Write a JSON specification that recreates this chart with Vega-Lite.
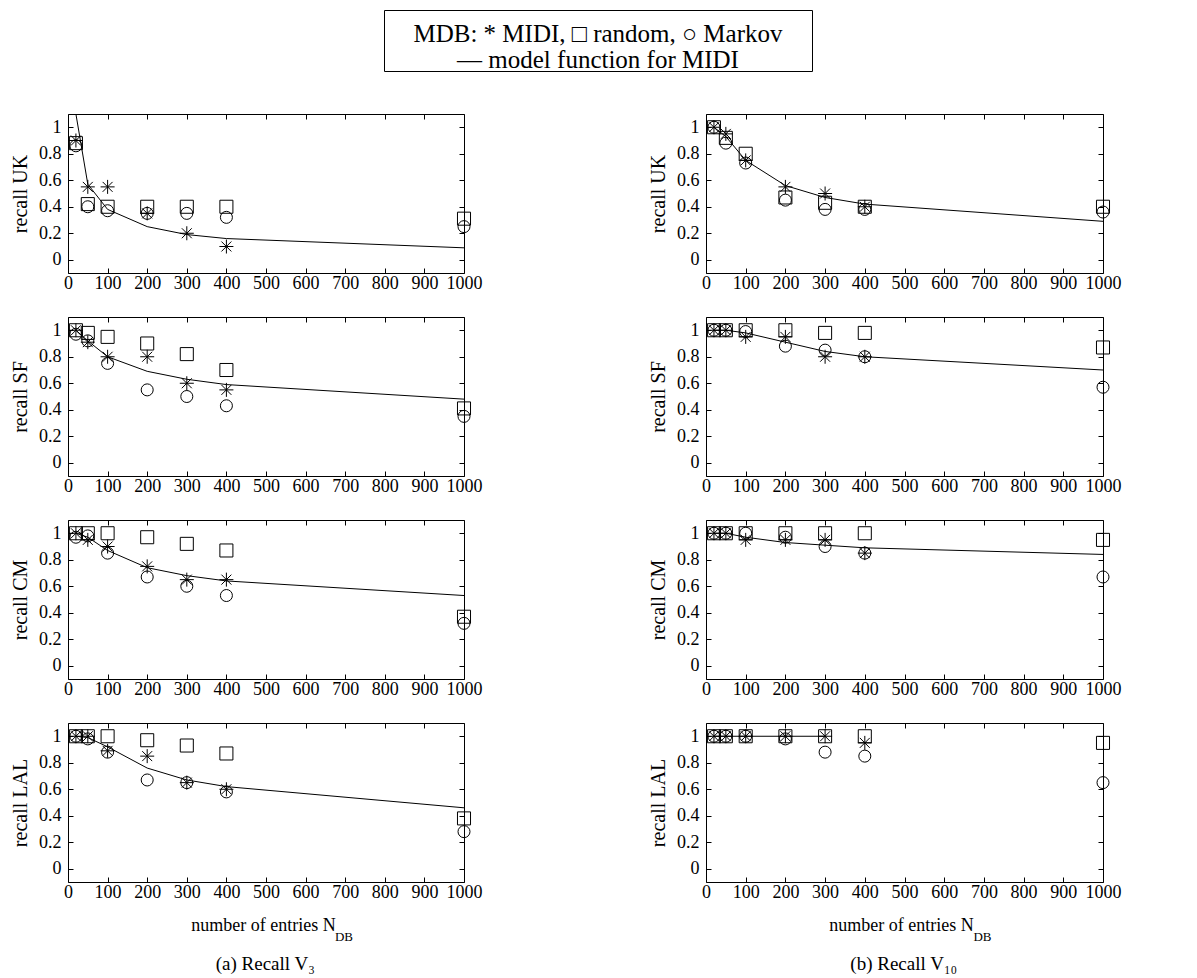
{
"$schema":"https://vega.github.io/schema/vega-lite/v6.json",
"background":"white",
"padding":{"left":10,"top":9,"right":5,"bottom":5},
"datasets":{"d":[
{"p":"aUK","s":"MIDI","x":20,"v":0.9},{"p":"aUK","s":"MIDI","x":50,"v":0.55},{"p":"aUK","s":"MIDI","x":100,"v":0.55},{"p":"aUK","s":"MIDI","x":200,"v":0.35},{"p":"aUK","s":"MIDI","x":300,"v":0.2},{"p":"aUK","s":"MIDI","x":400,"v":0.1},
{"p":"aUK","s":"random","x":20,"v":0.88},{"p":"aUK","s":"random","x":50,"v":0.42},{"p":"aUK","s":"random","x":100,"v":0.4},{"p":"aUK","s":"random","x":200,"v":0.4},{"p":"aUK","s":"random","x":300,"v":0.4},{"p":"aUK","s":"random","x":400,"v":0.4},{"p":"aUK","s":"random","x":1000,"v":0.31},
{"p":"aUK","s":"Markov","x":20,"v":0.86},{"p":"aUK","s":"Markov","x":50,"v":0.4},{"p":"aUK","s":"Markov","x":100,"v":0.37},{"p":"aUK","s":"Markov","x":200,"v":0.35},{"p":"aUK","s":"Markov","x":300,"v":0.35},{"p":"aUK","s":"Markov","x":400,"v":0.32},{"p":"aUK","s":"Markov","x":1000,"v":0.25},
{"p":"aUK","s":"model","x":20,"v":1.1},{"p":"aUK","s":"model","x":50,"v":0.57},{"p":"aUK","s":"model","x":100,"v":0.38},{"p":"aUK","s":"model","x":200,"v":0.25},{"p":"aUK","s":"model","x":300,"v":0.19},{"p":"aUK","s":"model","x":400,"v":0.16},{"p":"aUK","s":"model","x":1000,"v":0.09},

{"p":"bUK","s":"MIDI","x":20,"v":1.0},{"p":"bUK","s":"MIDI","x":50,"v":0.95},{"p":"bUK","s":"MIDI","x":100,"v":0.75},{"p":"bUK","s":"MIDI","x":200,"v":0.55},{"p":"bUK","s":"MIDI","x":300,"v":0.5},{"p":"bUK","s":"MIDI","x":400,"v":0.4},
{"p":"bUK","s":"random","x":20,"v":1.0},{"p":"bUK","s":"random","x":50,"v":0.92},{"p":"bUK","s":"random","x":100,"v":0.8},{"p":"bUK","s":"random","x":200,"v":0.47},{"p":"bUK","s":"random","x":300,"v":0.43},{"p":"bUK","s":"random","x":400,"v":0.4},{"p":"bUK","s":"random","x":1000,"v":0.4},
{"p":"bUK","s":"Markov","x":20,"v":1.0},{"p":"bUK","s":"Markov","x":50,"v":0.88},{"p":"bUK","s":"Markov","x":100,"v":0.73},{"p":"bUK","s":"Markov","x":200,"v":0.45},{"p":"bUK","s":"Markov","x":300,"v":0.38},{"p":"bUK","s":"Markov","x":400,"v":0.38},{"p":"bUK","s":"Markov","x":1000,"v":0.36},
{"p":"bUK","s":"model","x":20,"v":1.0},{"p":"bUK","s":"model","x":50,"v":0.93},{"p":"bUK","s":"model","x":100,"v":0.75},{"p":"bUK","s":"model","x":200,"v":0.56},{"p":"bUK","s":"model","x":300,"v":0.47},{"p":"bUK","s":"model","x":400,"v":0.42},{"p":"bUK","s":"model","x":1000,"v":0.29},

{"p":"aSF","s":"MIDI","x":20,"v":1.0},{"p":"aSF","s":"MIDI","x":50,"v":0.91},{"p":"aSF","s":"MIDI","x":100,"v":0.8},{"p":"aSF","s":"MIDI","x":200,"v":0.8},{"p":"aSF","s":"MIDI","x":300,"v":0.6},{"p":"aSF","s":"MIDI","x":400,"v":0.55},
{"p":"aSF","s":"random","x":20,"v":1.0},{"p":"aSF","s":"random","x":50,"v":0.98},{"p":"aSF","s":"random","x":100,"v":0.95},{"p":"aSF","s":"random","x":200,"v":0.9},{"p":"aSF","s":"random","x":300,"v":0.82},{"p":"aSF","s":"random","x":400,"v":0.7},{"p":"aSF","s":"random","x":1000,"v":0.41},
{"p":"aSF","s":"Markov","x":20,"v":0.97},{"p":"aSF","s":"Markov","x":50,"v":0.92},{"p":"aSF","s":"Markov","x":100,"v":0.75},{"p":"aSF","s":"Markov","x":200,"v":0.55},{"p":"aSF","s":"Markov","x":300,"v":0.5},{"p":"aSF","s":"Markov","x":400,"v":0.43},{"p":"aSF","s":"Markov","x":1000,"v":0.35},
{"p":"aSF","s":"model","x":20,"v":1.0},{"p":"aSF","s":"model","x":50,"v":0.92},{"p":"aSF","s":"model","x":100,"v":0.8},{"p":"aSF","s":"model","x":200,"v":0.69},{"p":"aSF","s":"model","x":300,"v":0.63},{"p":"aSF","s":"model","x":400,"v":0.59},{"p":"aSF","s":"model","x":1000,"v":0.48},

{"p":"bSF","s":"MIDI","x":20,"v":1.0},{"p":"bSF","s":"MIDI","x":50,"v":1.0},{"p":"bSF","s":"MIDI","x":100,"v":0.95},{"p":"bSF","s":"MIDI","x":200,"v":0.95},{"p":"bSF","s":"MIDI","x":300,"v":0.8},{"p":"bSF","s":"MIDI","x":400,"v":0.8},
{"p":"bSF","s":"random","x":20,"v":1.0},{"p":"bSF","s":"random","x":50,"v":1.0},{"p":"bSF","s":"random","x":100,"v":1.0},{"p":"bSF","s":"random","x":200,"v":1.0},{"p":"bSF","s":"random","x":300,"v":0.98},{"p":"bSF","s":"random","x":400,"v":0.98},{"p":"bSF","s":"random","x":1000,"v":0.87},
{"p":"bSF","s":"Markov","x":20,"v":1.0},{"p":"bSF","s":"Markov","x":50,"v":1.0},{"p":"bSF","s":"Markov","x":100,"v":0.99},{"p":"bSF","s":"Markov","x":200,"v":0.88},{"p":"bSF","s":"Markov","x":300,"v":0.85},{"p":"bSF","s":"Markov","x":400,"v":0.8},{"p":"bSF","s":"Markov","x":1000,"v":0.57},
{"p":"bSF","s":"model","x":20,"v":1.0},{"p":"bSF","s":"model","x":50,"v":1.0},{"p":"bSF","s":"model","x":100,"v":0.98},{"p":"bSF","s":"model","x":200,"v":0.91},{"p":"bSF","s":"model","x":300,"v":0.84},{"p":"bSF","s":"model","x":400,"v":0.8},{"p":"bSF","s":"model","x":1000,"v":0.7},

{"p":"aCM","s":"MIDI","x":20,"v":1.0},{"p":"aCM","s":"MIDI","x":50,"v":0.95},{"p":"aCM","s":"MIDI","x":100,"v":0.9},{"p":"aCM","s":"MIDI","x":200,"v":0.75},{"p":"aCM","s":"MIDI","x":300,"v":0.65},{"p":"aCM","s":"MIDI","x":400,"v":0.65},
{"p":"aCM","s":"random","x":20,"v":1.0},{"p":"aCM","s":"random","x":50,"v":1.0},{"p":"aCM","s":"random","x":100,"v":1.0},{"p":"aCM","s":"random","x":200,"v":0.97},{"p":"aCM","s":"random","x":300,"v":0.92},{"p":"aCM","s":"random","x":400,"v":0.87},{"p":"aCM","s":"random","x":1000,"v":0.37},
{"p":"aCM","s":"Markov","x":20,"v":0.97},{"p":"aCM","s":"Markov","x":50,"v":0.98},{"p":"aCM","s":"Markov","x":100,"v":0.85},{"p":"aCM","s":"Markov","x":200,"v":0.67},{"p":"aCM","s":"Markov","x":300,"v":0.6},{"p":"aCM","s":"Markov","x":400,"v":0.53},{"p":"aCM","s":"Markov","x":1000,"v":0.32},
{"p":"aCM","s":"model","x":20,"v":1.0},{"p":"aCM","s":"model","x":50,"v":0.97},{"p":"aCM","s":"model","x":100,"v":0.87},{"p":"aCM","s":"model","x":200,"v":0.74},{"p":"aCM","s":"model","x":300,"v":0.68},{"p":"aCM","s":"model","x":400,"v":0.64},{"p":"aCM","s":"model","x":1000,"v":0.53},

{"p":"bCM","s":"MIDI","x":20,"v":1.0},{"p":"bCM","s":"MIDI","x":50,"v":1.0},{"p":"bCM","s":"MIDI","x":100,"v":0.95},{"p":"bCM","s":"MIDI","x":200,"v":0.95},{"p":"bCM","s":"MIDI","x":300,"v":0.95},{"p":"bCM","s":"MIDI","x":400,"v":0.85},
{"p":"bCM","s":"random","x":20,"v":1.0},{"p":"bCM","s":"random","x":50,"v":1.0},{"p":"bCM","s":"random","x":100,"v":1.0},{"p":"bCM","s":"random","x":200,"v":1.0},{"p":"bCM","s":"random","x":300,"v":1.0},{"p":"bCM","s":"random","x":400,"v":1.0},{"p":"bCM","s":"random","x":1000,"v":0.95},
{"p":"bCM","s":"Markov","x":20,"v":1.0},{"p":"bCM","s":"Markov","x":50,"v":1.0},{"p":"bCM","s":"Markov","x":100,"v":1.0},{"p":"bCM","s":"Markov","x":200,"v":0.97},{"p":"bCM","s":"Markov","x":300,"v":0.9},{"p":"bCM","s":"Markov","x":400,"v":0.85},{"p":"bCM","s":"Markov","x":1000,"v":0.67},
{"p":"bCM","s":"model","x":20,"v":1.0},{"p":"bCM","s":"model","x":50,"v":1.0},{"p":"bCM","s":"model","x":100,"v":0.97},{"p":"bCM","s":"model","x":200,"v":0.93},{"p":"bCM","s":"model","x":300,"v":0.91},{"p":"bCM","s":"model","x":400,"v":0.89},{"p":"bCM","s":"model","x":1000,"v":0.84},

{"p":"aLAL","s":"MIDI","x":20,"v":1.0},{"p":"aLAL","s":"MIDI","x":50,"v":1.0},{"p":"aLAL","s":"MIDI","x":100,"v":0.89},{"p":"aLAL","s":"MIDI","x":200,"v":0.85},{"p":"aLAL","s":"MIDI","x":300,"v":0.65},{"p":"aLAL","s":"MIDI","x":400,"v":0.6},
{"p":"aLAL","s":"random","x":20,"v":1.0},{"p":"aLAL","s":"random","x":50,"v":1.0},{"p":"aLAL","s":"random","x":100,"v":1.0},{"p":"aLAL","s":"random","x":200,"v":0.97},{"p":"aLAL","s":"random","x":300,"v":0.93},{"p":"aLAL","s":"random","x":400,"v":0.87},{"p":"aLAL","s":"random","x":1000,"v":0.38},
{"p":"aLAL","s":"Markov","x":20,"v":1.0},{"p":"aLAL","s":"Markov","x":50,"v":0.98},{"p":"aLAL","s":"Markov","x":100,"v":0.88},{"p":"aLAL","s":"Markov","x":200,"v":0.67},{"p":"aLAL","s":"Markov","x":300,"v":0.65},{"p":"aLAL","s":"Markov","x":400,"v":0.58},{"p":"aLAL","s":"Markov","x":1000,"v":0.28},
{"p":"aLAL","s":"model","x":20,"v":1.0},{"p":"aLAL","s":"model","x":50,"v":0.99},{"p":"aLAL","s":"model","x":100,"v":0.92},{"p":"aLAL","s":"model","x":200,"v":0.76},{"p":"aLAL","s":"model","x":300,"v":0.67},{"p":"aLAL","s":"model","x":400,"v":0.62},{"p":"aLAL","s":"model","x":1000,"v":0.46},

{"p":"bLAL","s":"MIDI","x":20,"v":1.0},{"p":"bLAL","s":"MIDI","x":50,"v":1.0},{"p":"bLAL","s":"MIDI","x":100,"v":1.0},{"p":"bLAL","s":"MIDI","x":200,"v":1.0},{"p":"bLAL","s":"MIDI","x":300,"v":1.0},{"p":"bLAL","s":"MIDI","x":400,"v":0.95},
{"p":"bLAL","s":"random","x":20,"v":1.0},{"p":"bLAL","s":"random","x":50,"v":1.0},{"p":"bLAL","s":"random","x":100,"v":1.0},{"p":"bLAL","s":"random","x":200,"v":1.0},{"p":"bLAL","s":"random","x":300,"v":1.0},{"p":"bLAL","s":"random","x":400,"v":1.0},{"p":"bLAL","s":"random","x":1000,"v":0.95},
{"p":"bLAL","s":"Markov","x":20,"v":1.0},{"p":"bLAL","s":"Markov","x":50,"v":1.0},{"p":"bLAL","s":"Markov","x":100,"v":1.0},{"p":"bLAL","s":"Markov","x":200,"v":0.98},{"p":"bLAL","s":"Markov","x":300,"v":0.88},{"p":"bLAL","s":"Markov","x":400,"v":0.85},{"p":"bLAL","s":"Markov","x":1000,"v":0.65},
{"p":"bLAL","s":"model","x":20,"v":1.0},{"p":"bLAL","s":"model","x":50,"v":1.0},{"p":"bLAL","s":"model","x":100,"v":1.0},{"p":"bLAL","s":"model","x":200,"v":1.0},{"p":"bLAL","s":"model","x":300,"v":1.0}
]},
"data":{"name":"d"},
"spacing":39,
"vconcat":[
 {"bounds":"flush","spacing":0,"hconcat":[
   {"width":316,"height":61,"view":{"stroke":null},"data":{"values":[{}]},"mark":{"type":"text"},"encoding":{"text":{"value":""}}},
   {"width":428,"height":61,"view":{"stroke":"black","strokeWidth":1},"data":{"values":[{}]},"mark":{"type":"text","font":"Liberation Serif","fontSize":25,"lineHeight":26,"baseline":"middle","align":"center","dy":-6.5,"color":"black"},"encoding":{"text":{"value":["MDB: * MIDI, □ random, ○ Markov","— model function for MIDI"]}}}
 ]},
 {"spacing":165,"hconcat":[
  {"bounds":"flush","spacing":44,
   "title":{"text":"(a)  Recall V₃","orient":"bottom","anchor":"middle","frame":"bounds","fontSize":19,"offset":10,"dx":19},
   "vconcat":[
    {"width":396,"height":159,"transform":[{"filter":"datum.p=='aUK'"}],"resolve":{"axis":{"x":"independent","y":"independent"}},
     "layer":[
      {"transform":[{"filter":"datum.s=='model'"}],"mark":{"type":"line","color":"black","strokeWidth":1,"clip":true},
       "encoding":{"x":{"field":"x","type":"quantitative","scale":{"domain":[0,1000],"nice":false,"zero":false},"axis":{"orient":"bottom","values":[0,100,200,300,400,500,600,700,800,900,1000],"format":"d","title":null}},
                   "y":{"field":"v","type":"quantitative","scale":{"domain":[-0.1,1.1],"nice":false,"zero":false},"axis":{"orient":"left","values":[0,0.2,0.4,0.6,0.8,1],"format":"~g","title":"recall UK"}}}},
      {"transform":[{"filter":"datum.s!='model'"}],"mark":{"type":"point","filled":false,"color":"black","strokeWidth":1,"opacity":1},
       "encoding":{"x":{"field":"x","type":"quantitative","axis":{"orient":"top","values":[0,100,200,300,400,500,600,700,800,900,1000],"labels":false,"title":null}},
                   "y":{"field":"v","type":"quantitative","axis":{"orient":"right","values":[0,0.2,0.4,0.6,0.8,1],"labels":false,"title":null}},
                   "shape":{"field":"s","type":"nominal","scale":{"domain":["MIDI","random","Markov"],"range":["M0,-1L0,1M-1,0L1,0M-0.71,-0.71L0.71,0.71M-0.71,0.71L0.71,-0.71","square","circle"]},"legend":null},
                   "size":{"field":"s","type":"nominal","scale":{"domain":["MIDI","random","Markov"],"range":[196,144,256]},"legend":null}}}
     ]},
    {"width":396,"height":159,"transform":[{"filter":"datum.p=='aSF'"}],"resolve":{"axis":{"x":"independent","y":"independent"}},
     "layer":[
      {"transform":[{"filter":"datum.s=='model'"}],"mark":{"type":"line","color":"black","strokeWidth":1,"clip":true},
       "encoding":{"x":{"field":"x","type":"quantitative","scale":{"domain":[0,1000],"nice":false,"zero":false},"axis":{"orient":"bottom","values":[0,100,200,300,400,500,600,700,800,900,1000],"format":"d","title":null}},
                   "y":{"field":"v","type":"quantitative","scale":{"domain":[-0.1,1.1],"nice":false,"zero":false},"axis":{"orient":"left","values":[0,0.2,0.4,0.6,0.8,1],"format":"~g","title":"recall SF"}}}},
      {"transform":[{"filter":"datum.s!='model'"}],"mark":{"type":"point","filled":false,"color":"black","strokeWidth":1,"opacity":1},
       "encoding":{"x":{"field":"x","type":"quantitative","axis":{"orient":"top","values":[0,100,200,300,400,500,600,700,800,900,1000],"labels":false,"title":null}},
                   "y":{"field":"v","type":"quantitative","axis":{"orient":"right","values":[0,0.2,0.4,0.6,0.8,1],"labels":false,"title":null}},
                   "shape":{"field":"s","type":"nominal","scale":{"domain":["MIDI","random","Markov"],"range":["M0,-1L0,1M-1,0L1,0M-0.71,-0.71L0.71,0.71M-0.71,0.71L0.71,-0.71","square","circle"]},"legend":null},
                   "size":{"field":"s","type":"nominal","scale":{"domain":["MIDI","random","Markov"],"range":[196,144,256]},"legend":null}}}
     ]},
    {"width":396,"height":159,"transform":[{"filter":"datum.p=='aCM'"}],"resolve":{"axis":{"x":"independent","y":"independent"}},
     "layer":[
      {"transform":[{"filter":"datum.s=='model'"}],"mark":{"type":"line","color":"black","strokeWidth":1,"clip":true},
       "encoding":{"x":{"field":"x","type":"quantitative","scale":{"domain":[0,1000],"nice":false,"zero":false},"axis":{"orient":"bottom","values":[0,100,200,300,400,500,600,700,800,900,1000],"format":"d","title":null}},
                   "y":{"field":"v","type":"quantitative","scale":{"domain":[-0.1,1.1],"nice":false,"zero":false},"axis":{"orient":"left","values":[0,0.2,0.4,0.6,0.8,1],"format":"~g","title":"recall CM"}}}},
      {"transform":[{"filter":"datum.s!='model'"}],"mark":{"type":"point","filled":false,"color":"black","strokeWidth":1,"opacity":1},
       "encoding":{"x":{"field":"x","type":"quantitative","axis":{"orient":"top","values":[0,100,200,300,400,500,600,700,800,900,1000],"labels":false,"title":null}},
                   "y":{"field":"v","type":"quantitative","axis":{"orient":"right","values":[0,0.2,0.4,0.6,0.8,1],"labels":false,"title":null}},
                   "shape":{"field":"s","type":"nominal","scale":{"domain":["MIDI","random","Markov"],"range":["M0,-1L0,1M-1,0L1,0M-0.71,-0.71L0.71,0.71M-0.71,0.71L0.71,-0.71","square","circle"]},"legend":null},
                   "size":{"field":"s","type":"nominal","scale":{"domain":["MIDI","random","Markov"],"range":[196,144,256]},"legend":null}}}
     ]},
    {"width":396,"height":159,"transform":[{"filter":"datum.p=='aLAL'"}],"resolve":{"axis":{"x":"independent","y":"independent"}},
     "title":{"text":"DB","orient":"bottom","anchor":"middle","fontSize":13,"dx":78,"offset":-3},
     "layer":[
      {"transform":[{"filter":"datum.s=='model'"}],"mark":{"type":"line","color":"black","strokeWidth":1,"clip":true},
       "encoding":{"x":{"field":"x","type":"quantitative","scale":{"domain":[0,1000],"nice":false,"zero":false},"axis":{"orient":"bottom","values":[0,100,200,300,400,500,600,700,800,900,1000],"format":"d","title":"number of entries N","titleX":195}},
                   "y":{"field":"v","type":"quantitative","scale":{"domain":[-0.1,1.1],"nice":false,"zero":false},"axis":{"orient":"left","values":[0,0.2,0.4,0.6,0.8,1],"format":"~g","title":"recall LAL"}}}},
      {"transform":[{"filter":"datum.s!='model'"}],"mark":{"type":"point","filled":false,"color":"black","strokeWidth":1,"opacity":1},
       "encoding":{"x":{"field":"x","type":"quantitative","axis":{"orient":"top","values":[0,100,200,300,400,500,600,700,800,900,1000],"labels":false,"title":null}},
                   "y":{"field":"v","type":"quantitative","axis":{"orient":"right","values":[0,0.2,0.4,0.6,0.8,1],"labels":false,"title":null}},
                   "shape":{"field":"s","type":"nominal","scale":{"domain":["MIDI","random","Markov"],"range":["M0,-1L0,1M-1,0L1,0M-0.71,-0.71L0.71,0.71M-0.71,0.71L0.71,-0.71","square","circle"]},"legend":null},
                   "size":{"field":"s","type":"nominal","scale":{"domain":["MIDI","random","Markov"],"range":[196,144,256]},"legend":null}}}
     ]}
   ]},
  {"bounds":"flush","spacing":44,
   "title":{"text":"(b)  Recall V₁₀","orient":"bottom","anchor":"middle","frame":"bounds","fontSize":19,"offset":10,"dx":19},
   "vconcat":[
    {"width":397,"height":159,"transform":[{"filter":"datum.p=='bUK'"}],"resolve":{"axis":{"x":"independent","y":"independent"}},
     "layer":[
      {"transform":[{"filter":"datum.s=='model'"}],"mark":{"type":"line","color":"black","strokeWidth":1,"clip":true},
       "encoding":{"x":{"field":"x","type":"quantitative","scale":{"domain":[0,1000],"nice":false,"zero":false},"axis":{"orient":"bottom","values":[0,100,200,300,400,500,600,700,800,900,1000],"format":"d","title":null}},
                   "y":{"field":"v","type":"quantitative","scale":{"domain":[-0.1,1.1],"nice":false,"zero":false},"axis":{"orient":"left","values":[0,0.2,0.4,0.6,0.8,1],"format":"~g","title":"recall UK"}}}},
      {"transform":[{"filter":"datum.s!='model'"}],"mark":{"type":"point","filled":false,"color":"black","strokeWidth":1,"opacity":1},
       "encoding":{"x":{"field":"x","type":"quantitative","axis":{"orient":"top","values":[0,100,200,300,400,500,600,700,800,900,1000],"labels":false,"title":null}},
                   "y":{"field":"v","type":"quantitative","axis":{"orient":"right","values":[0,0.2,0.4,0.6,0.8,1],"labels":false,"title":null}},
                   "shape":{"field":"s","type":"nominal","scale":{"domain":["MIDI","random","Markov"],"range":["M0,-1L0,1M-1,0L1,0M-0.71,-0.71L0.71,0.71M-0.71,0.71L0.71,-0.71","square","circle"]},"legend":null},
                   "size":{"field":"s","type":"nominal","scale":{"domain":["MIDI","random","Markov"],"range":[196,144,256]},"legend":null}}}
     ]},
    {"width":397,"height":159,"transform":[{"filter":"datum.p=='bSF'"}],"resolve":{"axis":{"x":"independent","y":"independent"}},
     "layer":[
      {"transform":[{"filter":"datum.s=='model'"}],"mark":{"type":"line","color":"black","strokeWidth":1,"clip":true},
       "encoding":{"x":{"field":"x","type":"quantitative","scale":{"domain":[0,1000],"nice":false,"zero":false},"axis":{"orient":"bottom","values":[0,100,200,300,400,500,600,700,800,900,1000],"format":"d","title":null}},
                   "y":{"field":"v","type":"quantitative","scale":{"domain":[-0.1,1.1],"nice":false,"zero":false},"axis":{"orient":"left","values":[0,0.2,0.4,0.6,0.8,1],"format":"~g","title":"recall SF"}}}},
      {"transform":[{"filter":"datum.s!='model'"}],"mark":{"type":"point","filled":false,"color":"black","strokeWidth":1,"opacity":1},
       "encoding":{"x":{"field":"x","type":"quantitative","axis":{"orient":"top","values":[0,100,200,300,400,500,600,700,800,900,1000],"labels":false,"title":null}},
                   "y":{"field":"v","type":"quantitative","axis":{"orient":"right","values":[0,0.2,0.4,0.6,0.8,1],"labels":false,"title":null}},
                   "shape":{"field":"s","type":"nominal","scale":{"domain":["MIDI","random","Markov"],"range":["M0,-1L0,1M-1,0L1,0M-0.71,-0.71L0.71,0.71M-0.71,0.71L0.71,-0.71","square","circle"]},"legend":null},
                   "size":{"field":"s","type":"nominal","scale":{"domain":["MIDI","random","Markov"],"range":[196,144,256]},"legend":null}}}
     ]},
    {"width":397,"height":159,"transform":[{"filter":"datum.p=='bCM'"}],"resolve":{"axis":{"x":"independent","y":"independent"}},
     "layer":[
      {"transform":[{"filter":"datum.s=='model'"}],"mark":{"type":"line","color":"black","strokeWidth":1,"clip":true},
       "encoding":{"x":{"field":"x","type":"quantitative","scale":{"domain":[0,1000],"nice":false,"zero":false},"axis":{"orient":"bottom","values":[0,100,200,300,400,500,600,700,800,900,1000],"format":"d","title":null}},
                   "y":{"field":"v","type":"quantitative","scale":{"domain":[-0.1,1.1],"nice":false,"zero":false},"axis":{"orient":"left","values":[0,0.2,0.4,0.6,0.8,1],"format":"~g","title":"recall CM"}}}},
      {"transform":[{"filter":"datum.s!='model'"}],"mark":{"type":"point","filled":false,"color":"black","strokeWidth":1,"opacity":1},
       "encoding":{"x":{"field":"x","type":"quantitative","axis":{"orient":"top","values":[0,100,200,300,400,500,600,700,800,900,1000],"labels":false,"title":null}},
                   "y":{"field":"v","type":"quantitative","axis":{"orient":"right","values":[0,0.2,0.4,0.6,0.8,1],"labels":false,"title":null}},
                   "shape":{"field":"s","type":"nominal","scale":{"domain":["MIDI","random","Markov"],"range":["M0,-1L0,1M-1,0L1,0M-0.71,-0.71L0.71,0.71M-0.71,0.71L0.71,-0.71","square","circle"]},"legend":null},
                   "size":{"field":"s","type":"nominal","scale":{"domain":["MIDI","random","Markov"],"range":[196,144,256]},"legend":null}}}
     ]},
    {"width":397,"height":159,"transform":[{"filter":"datum.p=='bLAL'"}],"resolve":{"axis":{"x":"independent","y":"independent"}},
     "title":{"text":"DB","orient":"bottom","anchor":"middle","fontSize":13,"dx":78,"offset":-3},
     "layer":[
      {"transform":[{"filter":"datum.s=='model'"}],"mark":{"type":"line","color":"black","strokeWidth":1,"clip":true},
       "encoding":{"x":{"field":"x","type":"quantitative","scale":{"domain":[0,1000],"nice":false,"zero":false},"axis":{"orient":"bottom","values":[0,100,200,300,400,500,600,700,800,900,1000],"format":"d","title":"number of entries N","titleX":195}},
                   "y":{"field":"v","type":"quantitative","scale":{"domain":[-0.1,1.1],"nice":false,"zero":false},"axis":{"orient":"left","values":[0,0.2,0.4,0.6,0.8,1],"format":"~g","title":"recall LAL"}}}},
      {"transform":[{"filter":"datum.s!='model'"}],"mark":{"type":"point","filled":false,"color":"black","strokeWidth":1,"opacity":1},
       "encoding":{"x":{"field":"x","type":"quantitative","axis":{"orient":"top","values":[0,100,200,300,400,500,600,700,800,900,1000],"labels":false,"title":null}},
                   "y":{"field":"v","type":"quantitative","axis":{"orient":"right","values":[0,0.2,0.4,0.6,0.8,1],"labels":false,"title":null}},
                   "shape":{"field":"s","type":"nominal","scale":{"domain":["MIDI","random","Markov"],"range":["M0,-1L0,1M-1,0L1,0M-0.71,-0.71L0.71,0.71M-0.71,0.71L0.71,-0.71","square","circle"]},"legend":null},
                   "size":{"field":"s","type":"nominal","scale":{"domain":["MIDI","random","Markov"],"range":[196,144,256]},"legend":null}}}
     ]}
   ]}
 ]}
],
"config":{
 "font":"Liberation Serif",
 "view":{"stroke":"black","strokeWidth":1},
 "axis":{"labelFont":"Liberation Serif","titleFont":"Liberation Serif","labelFontSize":18,"titleFontWeight":"normal","labelColor":"black","titleColor":"black","tickColor":"black","tickSize":-5,"tickWidth":1,"domain":false,"grid":false,"labelFlush":false,"labelOverlap":false},
 "axisX":{"labelPadding":6,"titlePadding":15,"titleFontSize":18},
 "axisY":{"labelPadding":12,"titlePadding":8,"titleFontSize":20},
 "title":{"font":"Liberation Serif","fontWeight":"normal","color":"black"},
 "text":{"font":"Liberation Serif","color":"black"}
}
}
